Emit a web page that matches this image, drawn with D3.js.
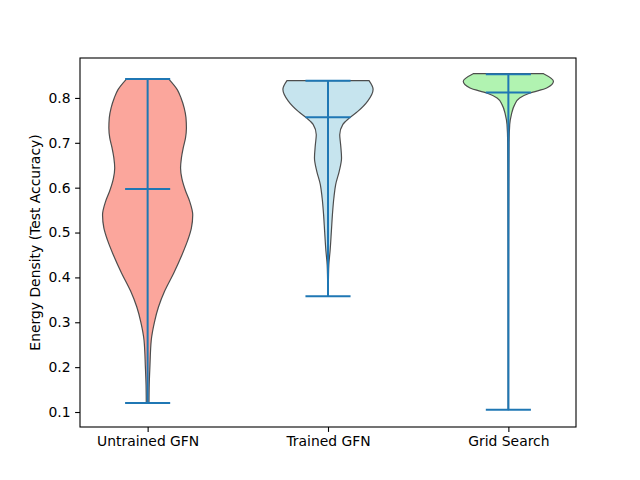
<!DOCTYPE html>
<html>
<head>
<meta charset="utf-8">
<script src="https://cdn.jsdelivr.net/npm/d3@7"></script>
<style>
  body { margin: 0; background: #fff; }
  text { font-family: "DejaVu Sans", sans-serif; }
</style>
</head>
<body>
<div id="chart"></div>
<script>
  'use strict';

  var categories = ['Untrained GFN', 'Trained GFN', 'Grid Search'],
      fills = ['#fba69c', '#c6e4ee', '#b1f3b1'],
      yTicks = [0.1, 0.2, 0.3, 0.4, 0.5, 0.6, 0.7, 0.8],
      // [value, relative density]
      untrainedDensity = [
        [0.120, 0.03], [0.16, 0.035], [0.20, 0.05], [0.26, 0.08], [0.30, 0.15],
        [0.334, 0.24], [0.37, 0.38], [0.41, 0.58], [0.45, 0.76], [0.483, 0.89],
        [0.51, 0.97], [0.539, 1.0], [0.57, 0.93], [0.593, 0.84], [0.62, 0.76],
        [0.644, 0.73], [0.667, 0.75], [0.689, 0.79], [0.711, 0.84], [0.733, 0.86],
        [0.756, 0.85], [0.778, 0.81], [0.80, 0.74], [0.818, 0.66], [0.842, 0.47]
      ],
      trainedDensity = [
        [0.358, 0.005], [0.40, 0.01], [0.428, 0.018], [0.459, 0.046], [0.503, 0.075],
        [0.540, 0.098], [0.577, 0.13], [0.607, 0.17], [0.637, 0.25], [0.666, 0.30],
        [0.696, 0.28], [0.718, 0.26], [0.741, 0.33], [0.755, 0.47], [0.770, 0.66],
        [0.793, 0.88], [0.819, 1.0], [0.8385, 0.91]
      ],
      gridDensity = [
        [0.105, 0.003], [0.40, 0.005], [0.60, 0.01], [0.70, 0.015], [0.741, 0.03],
        [0.763, 0.067], [0.785, 0.14], [0.80, 0.25], [0.811, 0.48], [0.822, 0.85],
        [0.837, 1.0], [0.854, 0.78]
      ],
      minValues = [0.120, 0.358, 0.105],
      midValues = [0.597, 0.757, 0.812],
      maxValues = [0.842, 0.8385, 0.853];

  var densities = [untrainedDensity, trainedDensity, gridDensity];

  var WIDTH = 640,
      HEIGHT = 480,
      margin = {top: 58, right: 64, bottom: 53, left: 80},
      plotW = WIDTH - margin.left - margin.right,
      plotH = HEIGHT - margin.top - margin.bottom,
      HALF_WIDTH = 0.25,
      CAP_HALF = 0.125,
      LINE_COLOR = '#1f77b4',
      FONT_SIZE = '13.9px';

  var svg = d3.select('#chart')
      .append('svg')
      .attr('width', WIDTH)
      .attr('height', HEIGHT);

  var g = svg.append('g')
      .attr('transform', 'translate(' + margin.left + ',' + margin.top + ')');

  var x = d3.scaleLinear().domain([0.625, 3.375]).range([0, plotW]),
      y = d3.scaleLinear().domain([0.0666, 0.889]).range([plotH, 0]);

  var halfPx = x(1 + HALF_WIDTH) - x(1),
      capPx = x(1 + CAP_HALF) - x(1);

  densities.forEach(function (dens, i) {
    var cx = x(i + 1);
    var area = d3.area()
        .curve(d3.curveMonotoneY)
        .y(function (d) { return y(d[0]); })
        .x0(function (d) { return cx - d[1] * halfPx; })
        .x1(function (d) { return cx + d[1] * halfPx; });

    g.append('path')
      .datum(dens)
      .attr('d', area)
      .attr('fill', fills[i])
      .attr('stroke', '#4d4d4d')
      .attr('stroke-width', 1.2);
  });

  // min/max bar and the three caps
  categories.forEach(function (c, i) {
    var cx = x(i + 1);
    g.append('line')
      .attr('x1', cx).attr('x2', cx)
      .attr('y1', y(minValues[i])).attr('y2', y(maxValues[i]))
      .attr('stroke', LINE_COLOR).attr('stroke-width', 2);
    [minValues[i], midValues[i], maxValues[i]].forEach(function (v) {
      g.append('line')
        .attr('x1', cx - capPx).attr('x2', cx + capPx)
        .attr('y1', y(v)).attr('y2', y(v))
        .attr('stroke', LINE_COLOR).attr('stroke-width', 2);
    });
  });

  var xAxis = d3.axisBottom(x)
      .tickValues([1, 2, 3])
      .tickFormat(function (d) { return categories[d - 1]; })
      .tickSizeOuter(0)
      .tickSize(4.9)
      .tickPadding(4.5);

  var yAxis = d3.axisLeft(y)
      .tickValues(yTicks)
      .tickFormat(d3.format('.1f'))
      .tickSizeOuter(0)
      .tickSize(4.9)
      .tickPadding(4.5);

  var gx = g.append('g')
      .attr('transform', 'translate(0,' + plotH + ')')
      .call(xAxis);
  var gy = g.append('g').call(yAxis);

  [gx, gy].forEach(function (ax) {
    ax.select('.domain').remove();
    ax.selectAll('.tick line').attr('stroke', '#000').attr('stroke-width', 1.1);
    ax.selectAll('.tick text')
      .attr('fill', '#000')
      .style('font-size', FONT_SIZE)
      .style('font-family', '"DejaVu Sans", sans-serif');
  });

  g.append('rect')
    .attr('width', plotW)
    .attr('height', plotH)
    .attr('fill', 'none')
    .attr('stroke', '#000')
    .attr('stroke-width', 1.1);

  svg.append('text')
    .attr('transform', 'translate(40,' + (margin.top + plotH / 2) + ') rotate(-90)')
    .attr('text-anchor', 'middle')
    .style('font-size', FONT_SIZE)
    .text('Energy Density (Test Accuracy)');
</script>
</body>
</html>
